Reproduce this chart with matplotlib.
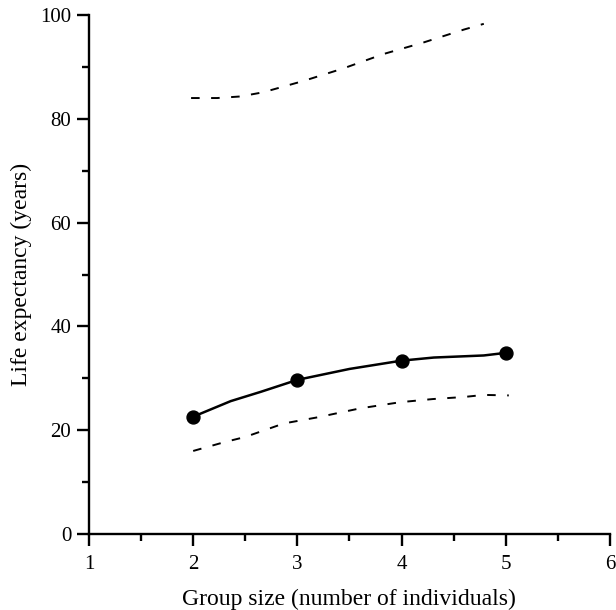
import matplotlib.pyplot as plt
from matplotlib.ticker import MultipleLocator

plt.rcParams['font.family'] = ['Liberation Serif', 'DejaVu Serif']

# mean life expectancy (solid line, markers at whole group sizes)
group_line = [2.0, 2.36, 2.65, 3.0, 3.5, 4.0, 4.31, 4.79, 5.0]
life_line = [22.6, 25.6, 27.4, 29.7, 31.8, 33.4, 34.0, 34.4, 34.9]
group_pts = [2, 3, 4, 5]
life_pts = [22.6, 29.7, 33.4, 34.9]

# lower confidence limit (dashed)
group_low = [2.0, 2.3, 2.5, 2.87, 3.2, 3.6, 3.99, 4.3, 4.6, 4.79, 5.03]
life_low = [16.0, 17.7, 18.7, 21.3, 22.5, 24.2, 25.4, 26.0, 26.4, 26.8, 26.7]

# upper confidence limit (dashed)
group_up = [1.98, 2.23, 2.45, 2.67, 3.06, 3.44, 3.83, 4.21, 4.6, 4.79]
life_up = [84.0, 84.0, 84.3, 85.1, 87.3, 89.7, 92.5, 94.7, 97.2, 98.3]

fig = plt.figure(figsize=(6.16, 6.10), dpi=100)
ax = fig.add_axes([0.1445, 0.1246, 0.8455, 0.8508])

ax.plot(group_line, life_line, color='black', linewidth=1.8)
ax.plot(group_pts, life_pts, 'o', color='black', markersize=9.3)
ax.plot(group_low, life_low, color='black', linewidth=1.4, dashes=(4.4, 5.9))
ax.plot(group_up, life_up, color='black', linewidth=1.4, dashes=(4.4, 5.9))

ax.set_xlim(1, 6)
ax.set_ylim(0, 100)
ax.xaxis.set_major_locator(MultipleLocator(1))
ax.xaxis.set_minor_locator(MultipleLocator(0.5))
ax.yaxis.set_major_locator(MultipleLocator(20))
ax.yaxis.set_minor_locator(MultipleLocator(10))

for s in ['top', 'right']:
    ax.spines[s].set_visible(False)
for s in ['left', 'bottom']:
    ax.spines[s].set_linewidth(1.7)

ax.tick_params(which='major', direction='out', length=8.3, width=1.7, labelsize=15)
ax.tick_params(axis='x', which='major', pad=6.7)
ax.tick_params(axis='y', which='major', pad=4.5)
ax.tick_params(which='minor', direction='out', length=4.7, width=1.7)

ax.set_xlabel('Group size (number of individuals)', fontsize=17, labelpad=11)
ax.set_ylabel('Life expectancy (years)', fontsize=17, labelpad=6)

fig.savefig('out.png', dpi=100)
